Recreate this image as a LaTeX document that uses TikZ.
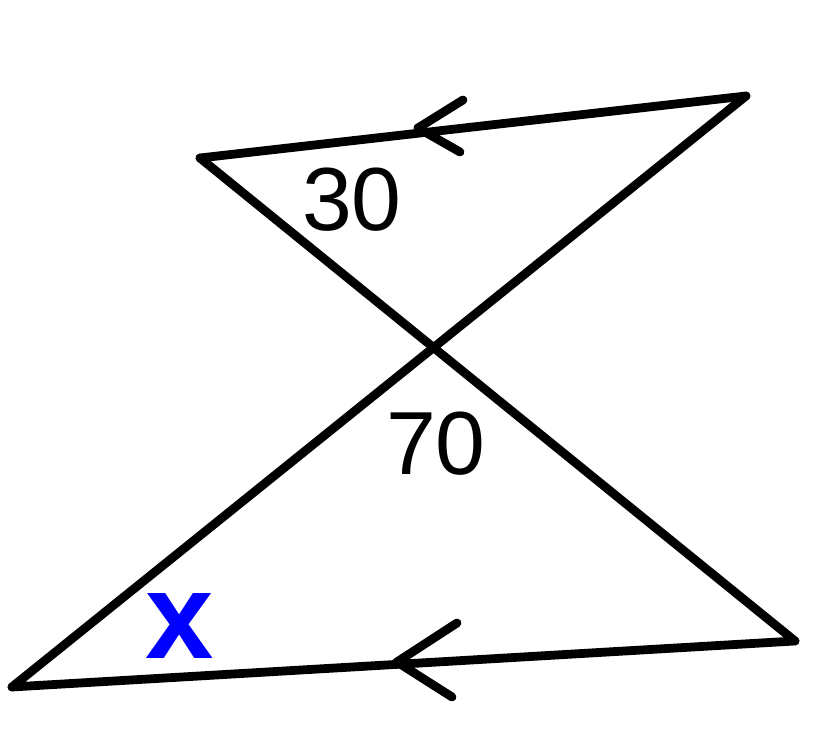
\documentclass[tikz,border=0pt]{standalone}
\usepackage{fontspec}
\setmainfont{Liberation Sans}
\usetikzlibrary{positioning}

\begin{document}
\begin{tikzpicture}[line width=2.5pt, line cap=round, line join=round]
  \useasboundingbox (0,0) rectangle (8.36,7.42);
  \coordinate (tl) at (2.00,5.84); %top left corner
  \coordinate (tr) at (7.46,6.46); %top right corner
  \coordinate (bl) at (0.12,0.55); %bottom left corner
  \coordinate (br) at (7.95,1.01); %bottom right corner

  \draw (tl) -- (tr) ; %Draw top side
  \draw (bl) -- (br) ; %Draw bottom side
  \draw (tl) -- (br) ; %Draw first diagonal
  \draw (tr) -- (bl) ; %Draw second diagonal

  \coordinate (toptip) at (4.18,6.14); %Parallel mark top
  \draw (4.63,6.42) -- (toptip) -- (4.60,5.90);
  \coordinate (bottip) at (3.97,0.80); %Parallel mark bottom
  \draw (4.57,1.19) -- (bottip) -- (4.52,0.45);

  \node (thirty) at (3.52,5.42) {\fontsize{25.5}{25.5}\selectfont 30}; %Angle 30
  \node (seventy) at (4.36,2.98) {\fontsize{25.5}{25.5}\selectfont 70}; %Angle 70
  \node[text=blue] (ex) at (1.80,1.16) {\fontsize{35}{35}\selectfont\bfseries x}; %Unknown angle
\end{tikzpicture}
\end{document}
